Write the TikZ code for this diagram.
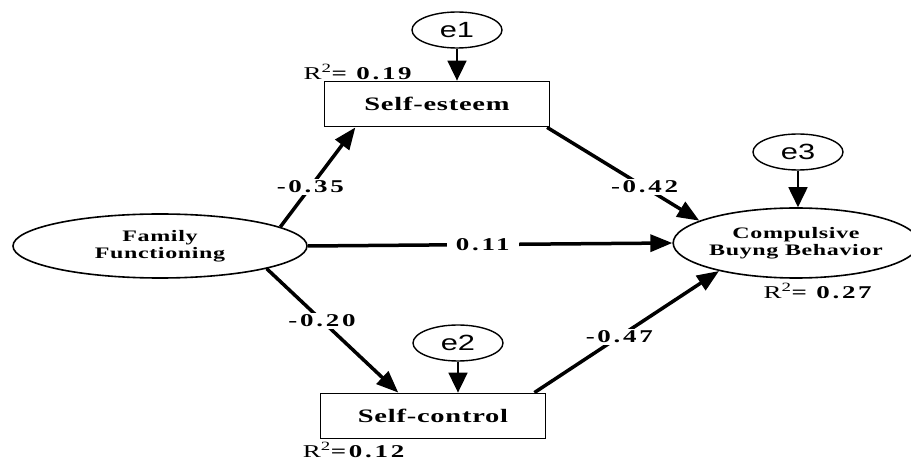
\documentclass[tikz,border=0pt]{standalone}
\usepackage{fontspec}
\setmainfont{Liberation Serif}
\newfontfamily\boxfont[FakeStretch=1.5,LetterSpace=4]{Liberation Serif}
\newfontfamily\numfont[FakeStretch=1.5,LetterSpace=15]{Liberation Serif}
\newfontfamily\errfont[FakeStretch=1.4]{Liberation Sans}
\usetikzlibrary{shapes.geometric,arrows.meta}

\begin{document}
\begin{tikzpicture}[x=1pt,y=-1pt]
				\tikzstyle{lat}=[ellipse, draw, line width=1.6pt, inner sep=0pt, align=center, font=\boxfont\bfseries\fontsize{16}{17}\selectfont]
				\tikzstyle{obs}=[rectangle, draw, line width=1.8pt, minimum width=225pt, minimum height=45pt, font=\boxfont\bfseries\fontsize{19}{20}\selectfont]
				\tikzstyle{err}=[ellipse, draw, line width=1.4pt, minimum width=90pt, minimum height=36pt, inner sep=0pt, font=\errfont\fontsize{22}{22}\selectfont]
				\tikzstyle{reg}=[line width=3.5pt, -{Triangle[length=22pt,width=17pt]}]
				\tikzstyle{earrow}=[line width=1.8pt, -{Triangle[length=20pt,width=19pt]}]
				\tikzstyle{coef}=[fill=white, inner xsep=4pt, inner ysep=2pt, font=\numfont\bfseries\fontsize{18}{18}\selectfont]
				\tikzstyle{rsq}=[inner sep=0pt, font=\numfont\fontsize{18}{18}\selectfont]

				\useasboundingbox (0,0) rectangle (911,462);

				\node[lat, minimum width=294pt, minimum height=64pt] (ff) at (160,246) {Family\\Functioning};
				\node[lat, minimum width=228pt, minimum height=70pt] (cbb) at (796,243) {Compulsive\\Buyng Behavior};
				\node[obs] (se) at (437,104) {Self-esteem};
				\node[obs] (sc) at (433,416) {Self-control};
				\node[err] (e1) at (457,30) {e1};
				\node[err] (e2) at (458,343) {e2};
				\node[err] (e3) at (798,152) {e3};

				\node[rsq] (r1) at (359,72) {R\textsuperscript{2}\textbf{= 0.19}};
				\node[rsq] (r2) at (355,450) {R\textsuperscript{2}\textbf{=0.12}};
				\node[rsq] (r3) at (819,291) {R\textsuperscript{2}\textbf{= 0.27}};

				\draw[reg] (ff.9) -- (se.196) node[coef, pos=0.4] {-0.35};
				\draw[reg] (ff.-12) -- (sc.146) node[coef, pos=0.42] {-0.20};
				\draw[reg] (ff.east) -- (cbb.west) node[coef, inner xsep=9pt, pos=0.48] {0.11};
				\draw[reg] (se.-12) -- (cbb.167) node[coef, pos=0.64] {-0.42};
				\draw[reg] (sc.13) -- (cbb.200) node[coef, pos=0.46] {-0.47};

				\foreach \from/\to in {e1/se,e2/sc,e3/cbb}
				\draw[earrow] (\from.south) -- (\from.south |- \to.north);
			\end{tikzpicture}
\end{document}
